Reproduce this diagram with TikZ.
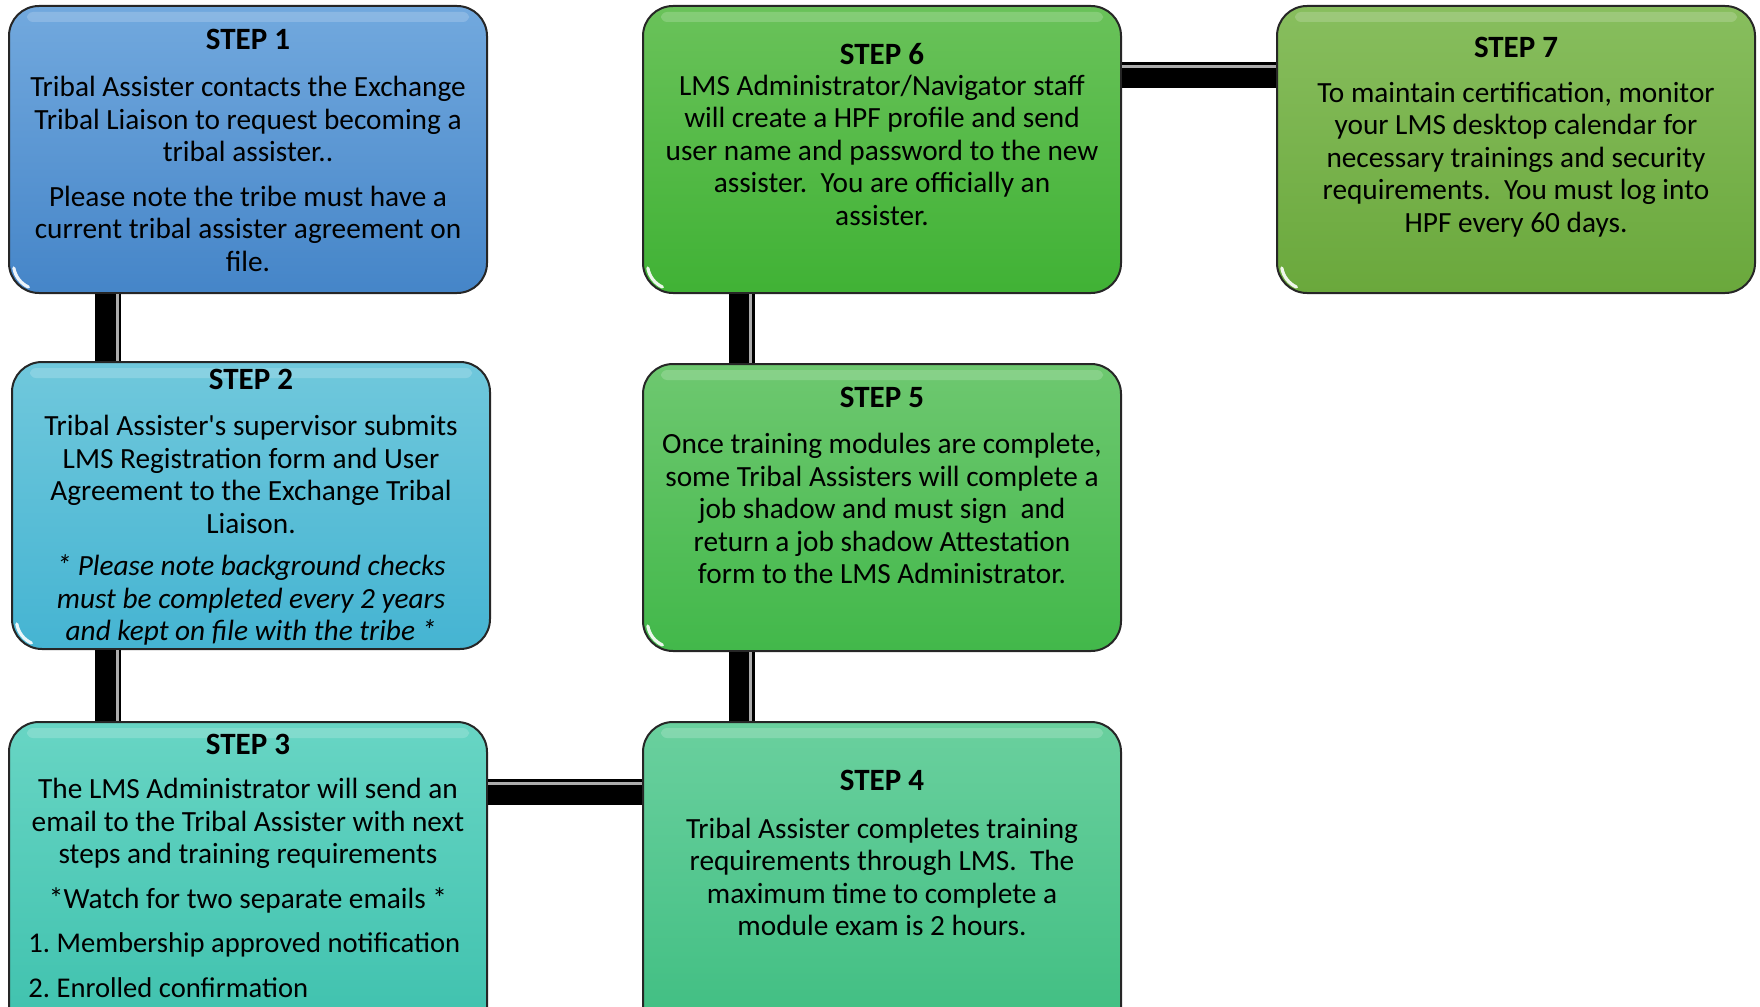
\documentclass[tikz,border=0pt]{standalone}
\usepackage{fontspec}
\setmainfont{Carlito}
\frenchspacing
\definecolor{c1t}{HTML}{72A9DE}\definecolor{c1b}{HTML}{4585C8}
\definecolor{c2t}{HTML}{70C8DC}\definecolor{c2b}{HTML}{45B4D2}
\definecolor{c3t}{HTML}{68D5C4}\definecolor{c3b}{HTML}{3CC0AC}
\definecolor{c4t}{HTML}{6AD09E}\definecolor{c4b}{HTML}{3DBD80}
\definecolor{c5t}{HTML}{6EC870}\definecolor{c5b}{HTML}{42B84A}
\definecolor{c6t}{HTML}{6AC25A}\definecolor{c6b}{HTML}{40B235}
\definecolor{c7t}{HTML}{88BE5E}\definecolor{c7b}{HTML}{6AA83C}
\tikzset{
  stepbox/.style={draw=black!85, line width=1pt, rounded corners=15pt,
    minimum width=239pt, minimum height=143.5pt, inner sep=0pt,
    path picture={
      \fill[white,opacity=0.18,rounded corners=3pt] ([shift={(9pt,-3pt)}]path picture bounding box.north west) rectangle ([shift={(-9pt,-8pt)}]path picture bounding box.north east);
      \draw[white,line width=1.6pt,opacity=0.9,line cap=round] ([shift={(2.4pt,12.5pt)}]path picture bounding box.south west) arc[start angle=190,end angle=245,radius=13pt];
    }},
  steptitle/.style={font=\fontsize{15.5}{18}\selectfont\bfseries, inner sep=0pt},
  body/.style={font=\fontsize{14.65}{16.25}\selectfont, align=center, inner sep=0pt},
  listitem/.style={font=\fontsize{14.3}{16.25}\selectfont, anchor=west, inner sep=0pt},
  conn/.style={line width=13pt, black},
  hl/.style={line width=1.5pt, gray!65},
}
\begin{document}
\begin{tikzpicture}[x=0.5pt,y=-0.5pt]
\useasboundingbox (0,0) rectangle (1760,1006);
% boxes
\node[stepbox, top color=c1t, bottom color=c1b] (s1) at (248,149.5) {};
\node[stepbox, top color=c2t, bottom color=c2b] (s2) at (251,505.5) {};
\node[stepbox, top color=c3t, bottom color=c3b, minimum height=164pt] (s3) at (248,886) {};
\node[stepbox, top color=c4t, bottom color=c4b, minimum height=164pt] (s4) at (882,886) {};
\node[stepbox, top color=c5t, bottom color=c5b] (s5) at (882,507.5) {};
\node[stepbox, top color=c6t, bottom color=c6b] (s6) at (882,149.5) {};
\node[stepbox, top color=c7t, bottom color=c7b] (s7) at (1516,149.5) {};
% connectors
\path ([xshift=50pt]s1.south west) coordinate (c12);
\draw[conn] (c12) -- (c12 |- s2.north);
\draw[hl] ([xshift=4.5pt]c12) -- ([xshift=4.5pt]c12 |- s2.north);
\draw[conn] (c12 |- s2.south) -- (c12 |- s3.north);
\draw[hl] ([xshift=4.5pt]c12 |- s2.south) -- ([xshift=4.5pt]c12 |- s3.north);
\path ([yshift=-35.5pt]s3.north east) coordinate (c34);
\draw[conn] (c34) -- (c34 -| s4.west);
\draw[hl] ([yshift=4.5pt]c34) -- ([yshift=4.5pt]c34 -| s4.west);
\path ([xshift=49.8pt]s4.north west) coordinate (c45);
\draw[conn] (c45) -- (c45 |- s5.south);
\draw[hl] ([xshift=4.5pt]c45) -- ([xshift=4.5pt]c45 |- s5.south);
\draw[conn] (c45 |- s5.north) -- (c45 |- s6.south);
\draw[hl] ([xshift=4.5pt]c45 |- s5.north) -- ([xshift=4.5pt]c45 |- s6.south);
\path ([yshift=-35.25pt]s6.north east) coordinate (c67);
\draw[conn] (c67) -- (c67 -| s7.west);
\draw[hl] ([yshift=4.5pt]c67) -- ([yshift=4.5pt]c67 -| s7.west);
% step 1
\node[steptitle] (t1) at (248,39.3) {STEP 1};
\node[body] (b1a) at (248,119) {Tribal Assister contacts the Exchange\\Tribal Liaison to request becoming a\\tribal assister..};
\node[body] (b1b) at (248,228.6) {Please note the tribe must have a\\current tribal assister agreement on\\file.};
% step 2
\node[steptitle] (t2) at (251,379.4) {STEP 2};
\node[body] (b2a) at (251,474.2) {Tribal Assister\textquotesingle s supervisor submits\\LMS Registration form and User\\Agreement to the Exchange Tribal\\Liaison.};
\node[body, font=\fontsize{14.65}{16.25}\selectfont\itshape] (b2b) at (251,600) {* Please note background checks\\must be completed every 2 years\\and kept on file with the tribe *};
% step 3
\node[steptitle] (t3) at (248,744) {STEP 3};
\node[body] (b3a) at (248,823.8) {The LMS Administrator will send an\\email to the Tribal Assister with next\\steps and training requirements};
\node[body] (b3b) at (248,900.2) {*Watch for two separate emails *};
\node[listitem] (b3c) at (28,945) {1. Membership approved notification};
\node[listitem] (b3d) at (28,987.7) {2. Enrolled confirmation};
% step 4
\node[steptitle] (t4) at (882,780) {STEP 4};
\node[body] (b4) at (882,876.9) {Tribal Assister completes training\\requirements through LMS.\ \ The\\maximum time to complete a\\module exam is 2 hours.};
% step 5
\node[steptitle] (t5) at (882,397.3) {STEP 5};
\node[body] (b5) at (882,508.5) {Once training modules are complete,\\some Tribal Assisters will complete a\\job shadow and must sign\ \ and\\return a job shadow Attestation\\form to the LMS Administrator.};
% step 6
\node[steptitle] (t6) at (882,53.9) {STEP 6};
\node[body] (b6) at (882,150.4) {LMS Administrator/Navigator staff\\will create a HPF profile and send\\user name and password to the new\\assister.\ \ You are officially an\\assister.};
% step 7
\node[steptitle] (t7) at (1516,47.1) {STEP 7};
\node[body] (b7) at (1516,159.4) {To maintain certification, monitor\\your LMS desktop calendar for\\necessary trainings and security\\requirements.\ \ You must log into\\HPF every 60 days.};
\end{tikzpicture}
\end{document}
